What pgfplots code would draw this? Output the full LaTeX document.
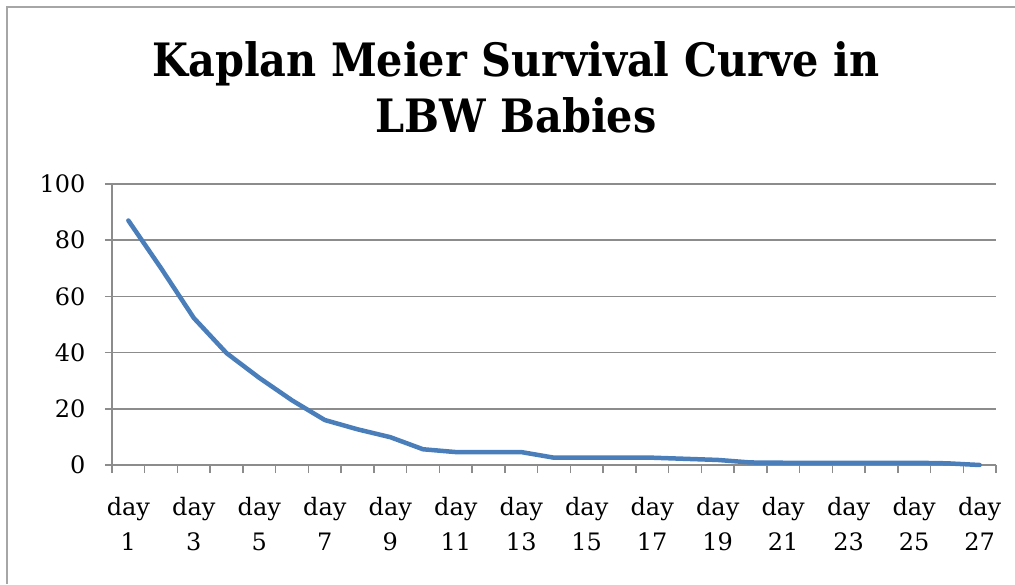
\documentclass[border=0pt]{standalone}
\usepackage{pgfplots}
\pgfplotsset{compat=1.18}
\usepackage{fontspec}
\setmainfont{DejaVu Serif}
\newfontfamily\titlefont{DejaVu Serif Condensed}
\definecolor{kmblue}{HTML}{4A7EBB}
\definecolor{gridgray}{HTML}{8C8C8C}
\definecolor{framegray}{HTML}{A6A6A6}
\begin{document}
\begin{tikzpicture}[x=1pt,y=1pt]
\useasboundingbox (0,0) rectangle (1015,584);
\draw[framegray,line width=1.5pt] (7,0) -- (7,577) -- (1015,577);
\node[anchor=base,font=\titlefont\bfseries\fontsize{46}{56}\selectfont] at (516,507) {Kaplan Meier Survival Curve in};
\node[anchor=base,font=\titlefont\bfseries\fontsize{46}{56}\selectfont] at (516,451) {LBW Babies};
\begin{axis}[
  at={(112pt,119pt)}, anchor=origin,
  scale only axis, width=884pt, height=281pt,
  xmin=0.5, xmax=27.5, ymin=0, ymax=100,
  axis x line=bottom, axis y line=left,
  axis line style={gridgray,line width=1.5pt,-},
  xtick={1,3,...,27},
  xticklabels={{day\\1},{day\\3},{day\\5},{day\\7},{day\\9},{day\\11},{day\\13},{day\\15},{day\\17},{day\\19},{day\\21},{day\\23},{day\\25},{day\\27}},
  major x tick style={draw=none},
  minor xtick={0.5,1.5,...,27.5},
  minor x tick style={gridgray,line width=1.5pt},
  minor tick length=8pt,
  xtick align=outside,
  xticklabel style={align=center,font=\fontsize{24}{35}\selectfont,yshift=-22pt},
  ytick={0,20,...,100},
  ytick align=outside,
  major tick length=7pt,
  y tick style={gridgray,line width=1.5pt},
  yticklabel style={font=\fontsize{24}{28}\selectfont,xshift=-16pt},
  /pgf/number format/assume math mode=true,
  ymajorgrids, grid style={gridgray,line width=1.5pt},
  clip=false,
]
\addplot[kmblue,line width=4.5pt,line join=round,line cap=round] coordinates {
(1,87) (2,70) (3,52.3) (4,39.8) (5,31) (6,23) (7,16) (8,12.7) (9,9.9)
(10,5.6) (11,4.6) (12,4.6) (13,4.6) (14,2.6) (15,2.6) (16,2.6) (17,2.6)
(18,2.2) (19,1.8) (20,0.9) (21,0.8) (22,0.8) (23,0.8) (24,0.8) (25,0.8)
(26,0.6) (27,0)
};
\end{axis}
\end{tikzpicture}
\end{document}
